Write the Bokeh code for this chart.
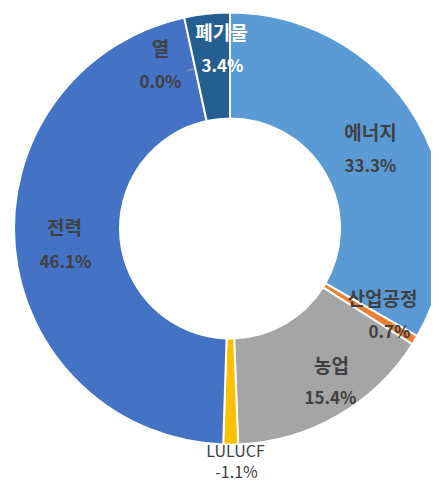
import math
from bokeh.plotting import figure
from bokeh.models import Range1d, ColumnDataSource
from bokeh.core.properties import value
from bokeh.embed import file_html
from bokeh.resources import INLINE

# ---- data ----
categories = ["에너지", "산업공정", "농업", "LULUCF", "전력", "열", "폐기물"]
shares = [33.3, 0.7, 15.4, -1.1, 46.1, 0.0, 3.4]
share_labels = ["33.3%", "0.7%", "15.4%", "-1.1%", "46.1%", "0.0%", "3.4%"]
colors = ["#5B9BD5", "#ED7D31", "#A5A5A5", "#FFC000", "#4472C4", "#70AD47", "#255E91"]

# ---- geometry ----
CX, CY = 229.5, -228.0
R_OUT, R_IN = 216, 110

total = sum(abs(v) for v in shares)
xs, ys, starts, ends, cols = [], [], [], [], []
acc = 0.0
for v, c in zip(shares, colors):
    t1 = acc / total * 2 * math.pi
    acc += abs(v)
    t2 = acc / total * 2 * math.pi
    if abs(v) > 0:
        xs.append(CX); ys.append(CY)
        starts.append(math.pi / 2 - t2)
        ends.append(math.pi / 2 - t1)
        cols.append(c)

p = figure(width=431, height=483, output_backend="svg", toolbar_location=None,
           x_range=Range1d(0, 431), y_range=Range1d(-483, 0),
           min_border=0, outline_line_color=None)
p.axis.visible = False
p.grid.visible = False
p.background_fill_color = "white"

src = ColumnDataSource(dict(x=xs, y=ys, start=starts, end=ends, color=cols))
p.annular_wedge(x="x", y="y", inner_radius=R_IN, outer_radius=R_OUT,
                start_angle="start", end_angle="end", color="color",
                line_color="white", line_width=2, source=src)

# label placement (name, value positions in picture pixels)
name_pos = {"에너지": (370, 131), "산업공정": (382, 297), "농업": (331, 364),
            "LULUCF": (235, 449), "전력": (64, 226), "열": (160, 47), "폐기물": (221, 31)}
val_pos = {"에너지": (370, 164), "산업공정": (389, 330), "농업": (330, 396),
           "LULUCF": (236, 470), "전력": (65, 260), "열": (160, 80), "폐기물": (222, 64)}

font = value("Noto Sans CJK KR")
for cat, lab in zip(categories, share_labels):
    col = "#FFFFFF" if cat == "폐기물" else "#404040"
    style = "normal" if cat == "LULUCF" else "bold"
    nsize = "16px" if cat == "LULUCF" else "19px"
    vsize = "16px" if cat == "LULUCF" else "17px"
    nx, ny = name_pos[cat]
    vx, vy = val_pos[cat]
    p.text(x=[nx], y=[-ny], text=[cat], text_font=font, text_font_size=nsize,
           text_font_style=style, text_color=col, text_align="center",
           text_baseline="middle")
    p.text(x=[vx], y=[-vy], text=[lab], text_font=font, text_font_size=vsize,
           text_font_style=style, text_color=col, text_align="center",
           text_baseline="middle")

# leader line for 열
p.line(x=[187, 194], y=[-70, -68], line_color="#A6A6A6", line_width=1)

open("out.html", "w").write(file_html(p, INLINE))
